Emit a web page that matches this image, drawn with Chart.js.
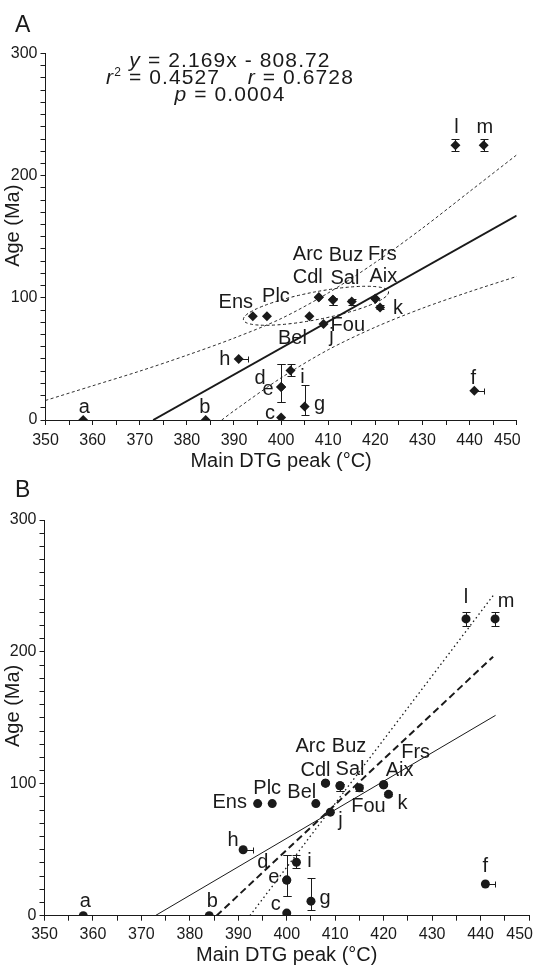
<!DOCTYPE html>
<html>
<head>
<meta charset="utf-8">
<script src="https://cdn.jsdelivr.net/npm/chart.js@4.4.1/dist/chart.umd.min.js"></script>
<style>
  html, body { margin: 0; padding: 0; background: #fff; }
  #wrap { position: relative; width: 537px; height: 969px; }
  canvas { position: absolute; left: 0; }
  #chartA { top: 0; }
  #chartB { top: 480px; }
</style>
</head>
<body>
<div id="wrap">
  <canvas id="chartA" width="537" height="480"></canvas>
  <canvas id="chartB" width="537" height="489"></canvas>
</div>
<script>
// Samples (age vs main DTG peak)
const SAMPLES  = ['a', 'b', 'c', 'd', 'e', 'f', 'g', 'h', 'i', 'j', 'k', 'l', 'm',
                  'Ens', 'Plc', 'Bel', 'Arc', 'Cdl', 'Buz', 'Sal', 'Fou', 'Frs', 'Aix'];
const DTG_PEAK = [358, 384, 400, 400, 400, 441, 405, 391, 402, 409, 421, 437, 443,
                  394, 397, 406, 408, 408, 411, 411, 415, 420, 420];
const AGE      = [0, 0, 2, 27, 27, 24, 11, 50, 40.5, 78.5, 92, 225, 225,
                  85, 85, 85, 100.5, 100.5, 98.5, 98.5, 97, 99.3, 99.3];
// error bars
const AGE_LOW  = [null, null, null, 15, 15, null, 4.5, null, 36, null, 90.5, 220, 220,
                  null, null, null, null, null, 94.5, 94.5, 94.5, null, null];
const AGE_HIGH = [null, null, null, 46, 46, null, 28.5, null, 46, null, 94, 230, 230,
                  null, null, null, null, null, 99.5, 99.5, 99, null, null];
const DTG_HIGH = [null, null, null, null, null, 443, null, 393, null, null, null, null, null,
                  null, null, null, null, null, null, null, null, null, null];

// axis ticks
const X_TICKS = [350, 360, 370, 380, 390, 400, 410, 420, 430, 440, 450];
const Y_TICKS = [0, 100, 200, 300];

// panel A: regression and confidence band
const FIT_A_X = [372.85, 450];
const FIT_A_Y = [0, 167.3];
const BAND_UP_X = [350, 360, 370, 380, 390, 400, 410, 420, 430, 440, 450];
const BAND_UP_Y = [16, 28, 40, 53, 67, 83, 104, 129, 157, 187, 217];
const BAND_LO_X = [387.4, 390, 400, 410, 420, 430, 440, 450];
const BAND_LO_Y = [0, 7.5, 34.5, 57.5, 76, 91.5, 105, 117.5];
// cluster ellipse (major axis ends, half width in Ma)
const ELLIPSE_A = { from: [392, 82], to: [422.8, 105], halfWidth: 11.5 };
const EQ_LINES = [
  [['y', 'i'], [' = 2.169x - 808.72', 'n']],
  [['r', 'i'], ['2', 's'], [' = 0.4527    ', 'n'], ['r', 'i'], [' = 0.6728', 'n']],
  [['p', 'i'], [' = 0.0004', 'n']]
];

// panel B: three fitted lines
const FIT_B_SOLID_X = [372.85, 443.1];
const FIT_B_SOLID_Y = [0, 151.9];
const FIT_B_DASH_X = [385.5, 442.6];
const FIT_B_DASH_Y = [0, 196.4];
const FIT_B_DOT_X = [392.4, 442.8];
const FIT_B_DOT_Y = [0, 243.7];

// label offsets from each point (px, text centre x / baseline y)
const LABEL_POS_A = {
  a: [1, -7], b: [-1, -7], c: [-11, 1], d: [-21, -3], e: [-13, 8], f: [-1, -7],
  g: [15, 3], h: [-14, 6], i: [12, 12], j: [8, 18], k: [18, 6], l: [1, -12], m: [1, -12],
  Ens: [-17, -8], Plc: [9, -14], Bel: [-17, 28], Arc: [-11, -37], Cdl: [-11, -14],
  Buz: [13, -39], Sal: [12, -16], Fou: [-4, 30], Frs: [7, -39], Aix: [8, -17]
};
const LABEL_POS_B = {
  a: [2, -9], b: [3, -9], c: [-11, -3], d: [-24, -12], e: [-13, 3], f: [0, -12],
  g: [14, 3], h: [-10, -4], i: [13, 5], j: [10, 14], k: [14, 15], l: [0, -16], m: [11, -12],
  Ens: [-28, 4], Plc: [-5, -10], Bel: [-14, -6], Arc: [-15, -31], Cdl: [-10, -7],
  Buz: [9, -34], Sal: [10, -11], Fou: [9, 24], Frs: [32, -27], Aix: [16, -9]
};

const FONT = "'Liberation Sans', Arial, Helvetica, sans-serif";
const INK = '#1a1a1a';
Chart.defaults.font.family = FONT;
Chart.defaults.color = INK;

const toXY = (xs, ys) => xs.map((v, i) => ({ x: v, y: ys[i] }));
const points = toXY(DTG_PEAK, AGE);

// error bars under the markers
const errorBars = {
  id: 'errorBars',
  beforeDatasetsDraw(chart) {
    const { ctx, scales: { x, y } } = chart;
    const cap = 4;
    ctx.save();
    ctx.strokeStyle = INK;
    ctx.lineWidth = 1;
    DTG_PEAK.forEach((v, i) => {
      const px = Math.round(x.getPixelForValue(v)) + 0.5;
      const py = y.getPixelForValue(AGE[i]);
      ctx.beginPath();
      if (AGE_LOW[i] != null) {
        const y1 = Math.round(y.getPixelForValue(AGE_LOW[i])) + 0.5;
        const y2 = Math.round(y.getPixelForValue(AGE_HIGH[i])) + 0.5;
        ctx.moveTo(px, y1); ctx.lineTo(px, y2);
        ctx.moveTo(px - cap, y1); ctx.lineTo(px + cap, y1);
        ctx.moveTo(px - cap, y2); ctx.lineTo(px + cap, y2);
      }
      if (DTG_HIGH[i] != null) {
        const x2 = Math.round(x.getPixelForValue(DTG_HIGH[i])) + 0.5;
        const yy = Math.round(py) + 0.5;
        ctx.moveTo(px, yy); ctx.lineTo(x2, yy);
        ctx.moveTo(x2, yy - 3); ctx.lineTo(x2, yy + 3);
      }
      ctx.stroke();
    });
    ctx.restore();
  }
};

// point labels, x tick labels, axis title, panel letter, extras
const annotate = {
  id: 'annotate',
  afterDraw(chart, args, opts) {
    const { ctx, scales: { x, y } } = chart;
    ctx.save();
    ctx.fillStyle = INK;

    // x tick labels
    ctx.font = '16px ' + FONT;
    ctx.textBaseline = 'alphabetic';
    X_TICKS.forEach((v, i) => {
      const px = x.getPixelForValue(v);
      if (i === X_TICKS.length - 1) {
        ctx.textAlign = 'right';
        ctx.fillText(String(v), px + 4, y.bottom + opts.tickBaseline);
      } else {
        ctx.textAlign = 'center';
        ctx.fillText(String(v), px, y.bottom + opts.tickBaseline);
      }
    });

    // y axis title, sitting a little above the axis middle
    ctx.save();
    ctx.font = '20px ' + FONT;
    ctx.textAlign = 'center';
    ctx.textBaseline = 'middle';
    ctx.translate(13, (y.top + y.bottom) / 2 - opts.yTitleLift);
    ctx.rotate(-Math.PI / 2);
    ctx.fillText('Age (Ma)', 0, 0);
    ctx.restore();

    // sample labels
    ctx.font = '20px ' + FONT;
    ctx.textAlign = 'center';
    SAMPLES.forEach((name, i) => {
      const off = opts.labels[name];
      if (!off) return;
      const px = x.getPixelForValue(DTG_PEAK[i]);
      const py = y.getPixelForValue(AGE[i]);
      ctx.fillText(name, px + off[0], py + off[1]);
    });

    // panel letter
    ctx.font = '23px ' + FONT;
    ctx.textAlign = 'left';
    ctx.fillText(opts.letter, 15, opts.letterY);

    // ellipse around the cluster
    if (opts.ellipse) {
      const e = opts.ellipse;
      const x1 = x.getPixelForValue(e.from[0]), y1 = y.getPixelForValue(e.from[1]);
      const x2 = x.getPixelForValue(e.to[0]), y2 = y.getPixelForValue(e.to[1]);
      const rx = Math.hypot(x2 - x1, y2 - y1) / 2;
      const rot = Math.atan2(y2 - y1, x2 - x1);
      const hw = Math.abs(y.getPixelForValue(0) - y.getPixelForValue(e.halfWidth)) * Math.cos(rot);
      ctx.strokeStyle = INK;
      ctx.lineWidth = 1;
      ctx.setLineDash([3, 2.5]);
      ctx.beginPath();
      ctx.ellipse((x1 + x2) / 2, (y1 + y2) / 2, rx, hw, rot, 0, Math.PI * 2);
      ctx.stroke();
      ctx.setLineDash([]);
    }

    // equation block
    if (opts.equation) {
      const base = 21;
      const fontOf = s => s === 'i' ? 'italic ' + base + 'px ' + FONT
        : s === 's' ? '12px ' + FONT : base + 'px ' + FONT;
      ctx.letterSpacing = '1.1px';
      opts.equation.forEach((runs, li) => {
        let w = 0;
        runs.forEach(r => { ctx.font = fontOf(r[1]); w += ctx.measureText(r[0]).width; });
        let cx = opts.eqCenter - w / 2;
        const by = opts.eqTop + li * 17;
        ctx.textAlign = 'left';
        runs.forEach(r => {
          ctx.font = fontOf(r[1]);
          ctx.fillText(r[0], cx, r[1] === 's' ? by - 8 : by);
          cx += ctx.measureText(r[0]).width;
        });
      });
      ctx.letterSpacing = '0px';
    }
    ctx.restore();
  }
};

function axes(xHeight, yWidth, xTitlePad) {
  return {
    x: {
      type: 'linear', min: 350, max: 450,
      ticks: { stepSize: 5, display: false, autoSkip: false },
      grid: { drawOnChartArea: false, tickLength: 5, color: INK },
      border: { color: INK, width: 1 },
      title: { display: true, text: 'Main DTG peak (°C)', font: { size: 20 }, padding: { top: 0, bottom: xTitlePad } },
      afterFit: s => { s.height = xHeight; }
    },
    y: {
      type: 'linear', min: 0, max: 300,
      ticks: {
        stepSize: 10, autoSkip: false, padding: 3, font: { size: 16 },
        callback: v => Y_TICKS.includes(v) ? String(v) : ''
      },
      grid: { drawOnChartArea: false, tickLength: 5, color: INK },
      border: { color: INK, width: 1 },
      title: { display: false },
      afterFit: s => { s.width = yWidth; }
    }
  };
}

const lineSet = (data, width, dash, tension) => ({
  data, showLine: true, pointRadius: 0, borderColor: INK, borderWidth: width,
  borderDash: dash, tension: tension || 0, fill: false
});

new Chart(document.getElementById('chartA'), {
  type: 'scatter',
  data: {
    datasets: [
      { data: points, pointStyle: 'rectRot', pointRadius: 5, backgroundColor: INK, borderWidth: 0 },
      lineSet(toXY(FIT_A_X, FIT_A_Y), 2, []),
      lineSet(toXY(BAND_UP_X, BAND_UP_Y), 0.9, [3, 2.5], 0.3),
      lineSet(toXY(BAND_LO_X, BAND_LO_Y), 0.9, [3, 2.5], 0.3)
    ]
  },
  options: {
    responsive: false, animation: false,
    layout: { padding: { top: 53.5, right: 20.3, left: 0, bottom: 0 } },
    plugins: {
      legend: { display: false }, tooltip: { enabled: false },
      annotate: {
        labels: LABEL_POS_A, letter: 'A', letterY: 32, tickBaseline: 25, yTitleLift: 11,
        ellipse: ELLIPSE_A, equation: EQ_LINES, eqCenter: 230, eqTop: 67
      }
    },
    scales: axes(60, 45.5, 7)
  },
  plugins: [errorBars, annotate]
});

new Chart(document.getElementById('chartB'), {
  type: 'scatter',
  data: {
    datasets: [
      { data: points, pointStyle: 'circle', pointRadius: 4.5, backgroundColor: INK, borderWidth: 0 },
      lineSet(toXY(FIT_B_SOLID_X, FIT_B_SOLID_Y), 1, []),
      lineSet(toXY(FIT_B_DASH_X, FIT_B_DASH_Y), 2, [7, 4]),
      lineSet(toXY(FIT_B_DOT_X, FIT_B_DOT_Y), 1.3, [1.5, 3])
    ]
  },
  options: {
    responsive: false, animation: false,
    layout: { padding: { top: 40, right: 8, left: 0, bottom: 0 } },
    plugins: {
      legend: { display: false }, tooltip: { enabled: false },
      annotate: { labels: LABEL_POS_B, letter: 'B', letterY: 17, tickBaseline: 23, yTitleLift: 12 }
    },
    scales: axes(53.3, 44.5, 2)
  },
  plugins: [errorBars, annotate]
});
</script>
</body>
</html>
